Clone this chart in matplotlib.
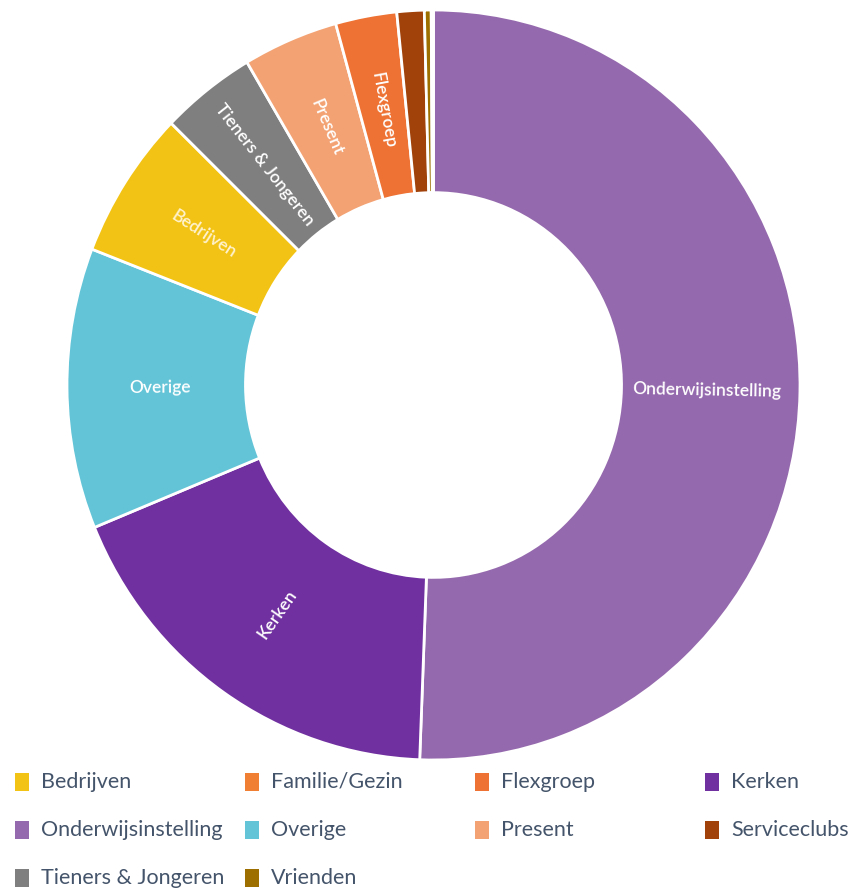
import numpy as np
import matplotlib
matplotlib.use("Agg")
import matplotlib.pyplot as plt
from matplotlib.patches import Rectangle

plt.rcParams['font.family'] = ['Lato', 'DejaVu Sans']

# wedges, clockwise from 12 o'clock
slices = ['Onderwijsinstelling', 'Kerken', 'Overige', 'Bedrijven',
          'Tieners & Jongeren', 'Present', 'Flexgroep', 'Serviceclubs',
          'Vrienden', 'Familie/Gezin']
shares = [50.6, 18.2, 12.1, 6.4, 4.2, 4.2, 2.7, 1.2, 0.3, 0.1]

# legend order
legend_labels = ['Bedrijven', 'Familie/Gezin', 'Flexgroep', 'Kerken',
                 'Onderwijsinstelling', 'Overige', 'Present', 'Serviceclubs',
                 'Tieners & Jongeren', 'Vrienden']

colors = {
    'Bedrijven': '#F2C314',
    'Familie/Gezin': '#F07F33',
    'Flexgroep': '#EE7233',
    'Kerken': '#7030A0',
    'Onderwijsinstelling': '#9569AD',
    'Overige': '#63C4D7',
    'Present': '#F3A273',
    'Serviceclubs': '#A0420A',
    'Tieners & Jongeren': '#7F7F7F',
    'Vrienden': '#9C6F00',
}
label_colors = {'Bedrijven': '#FFF3D0'}
no_label = ['Serviceclubs', 'Vrienden', 'Familie/Gezin']

fig = plt.figure(figsize=(8.5, 8.91), dpi=100)
# the reference ring is a little narrower than tall
ax = fig.add_axes([67 / 850, 131 / 891, 733 / 850, 750 / 891])

wedges, _ = ax.pie(shares, colors=[colors[s] for s in slices], startangle=90,
                   counterclock=False, radius=1.0,
                   wedgeprops=dict(width=0.487, edgecolor='white', linewidth=2))
ax.set_xlim(-1, 1)
ax.set_ylim(-1, 1)
ax.set_aspect('auto')

# radial labels inside the ring
for w, name in zip(wedges, slices):
    if name in no_label:
        continue
    mid = (w.theta1 + w.theta2) / 2
    r = 0.745
    x, y = r * np.cos(np.radians(mid)), r * np.sin(np.radians(mid))
    rot = mid
    while rot > 90:
        rot -= 180
    while rot < -90:
        rot += 180
    ax.text(x, y, name, rotation=rot, rotation_mode='anchor',
            ha='center', va='center', fontsize=12.5, fontweight='semibold',
            color=label_colors.get(name, 'white'))

# legend, 4 columns
col_x = [15, 245, 475, 705]
row_y = [782, 830, 878]
for i, name in enumerate(legend_labels):
    cx = col_x[i % 4]
    cy = row_y[i // 4]
    fig.patches.append(Rectangle((cx / 850, (891 - cy - 9) / 891), 14 / 850, 18 / 891,
                                 transform=fig.transFigure, facecolor=colors[name],
                                 edgecolor='none'))
    fig.text((cx + 26) / 850, (891 - cy) / 891, name, ha='left', va='center',
             fontsize=15.5, color='#44546A')

fig.savefig('out.png', dpi=100, facecolor='white')
